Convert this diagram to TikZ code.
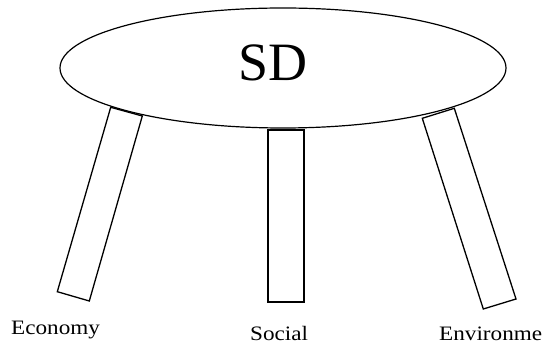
\documentclass[tikz,border=0pt]{standalone}
\usepackage{fontspec}
\setmainfont{Liberation Serif}
\newfontfamily\lblfont{Liberation Serif}[FakeStretch=1.13]
\usetikzlibrary{shapes.geometric}
\tikzset{
  leg/.style={draw=black, line width=1.3pt, fill=white, line join=miter},
  top/.style={draw=black, line width=1.2pt, fill=white},
  lbl/.style={inner sep=0pt, font=\lblfont\fontsize{20.5}{24}\selectfont},
  big/.style={inner sep=0pt, font=\fontsize{54}{60}\selectfont}
}
\begin{document}
\begin{tikzpicture}[x=1pt,y=-1pt]
\useasboundingbox (0,0) rectangle (544,344);
% legs
\draw[leg] (110.7,107.3) -- (142.3,116) -- (89.3,301) -- (57.3,291.7) -- cycle;
\draw[leg] (268,130) rectangle (304,302);
\draw[leg] (422.3,118.3) -- (454.3,108.3) -- (516,299) -- (483.3,309) -- cycle;
% table top
\draw[top] (283,68) ellipse [x radius=223, y radius=60];
\node[big, anchor=base west] (sd) at (238,81) {SD};
\node[lbl, anchor=base west] (eco) at (11,335) {Economy};
\node[lbl, anchor=base west] (soc) at (250,341) {Social};
\node[lbl, anchor=base west] (env) at (439,341) {Environme};
\end{tikzpicture}
\end{document}
